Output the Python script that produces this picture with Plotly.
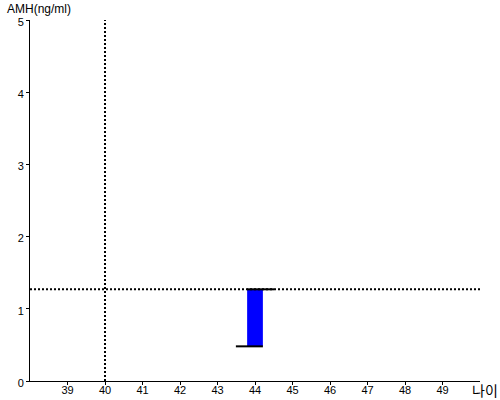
import plotly.graph_objects as go

ages = [44]
amh_low = [0.48]
amh_high = [1.27]
ref_age = 40
ref_amh = 1.27
x_ticks = [39, 40, 41, 42, 43, 44, 45, 46, 47, 48, 49]
y_ticks = [0, 1, 2, 3, 4, 5]

bar_w = 0.42
cap_ext = 0.3

W, H = 500, 400
ML, MR, MT, MB = 30, 20, 20, 19
pw, ph = W - ML - MR, H - MT - MB

fig = go.Figure()
fig.add_trace(go.Bar(
    x=ages, y=[h - l for h, l in zip(amh_high, amh_low)], base=amh_low,
    width=bar_w, marker=dict(color="#0000ff", line=dict(width=0)),
    hoverinfo="skip"))

# reference dotted lines
fig.add_trace(go.Scatter(x=[ref_age, ref_age], y=[0, 5], mode="lines",
                         line=dict(color="black", width=2, dash="2px,2px"), hoverinfo="skip"))
fig.add_trace(go.Scatter(x=[38, 50], y=[ref_amh, ref_amh], mode="lines",
                         line=dict(color="black", width=2, dash="2px,2px"), hoverinfo="skip"))

# caps
for a, lo, hi in zip(ages, amh_low, amh_high):
    fig.add_trace(go.Scatter(x=[a - bar_w / 2 - cap_ext, a + bar_w / 2], y=[lo, lo], mode="lines",
                             line=dict(color="black", width=2), hoverinfo="skip"))
    fig.add_trace(go.Scatter(x=[a - bar_w / 2, a + bar_w / 2 + cap_ext], y=[hi, hi], mode="lines",
                             line=dict(color="black", width=2), hoverinfo="skip"))

fig.update_layout(
    width=W, height=H,
    margin=dict(l=ML, r=MR, t=MT, b=MB, autoexpand=False),
    plot_bgcolor="white", paper_bgcolor="white",
    showlegend=False,
    font=dict(family="Liberation Sans, Arial, sans-serif", size=11, color="black"),
    xaxis=dict(range=[38, 50], tickvals=x_ticks, showgrid=False, zeroline=False,
               showline=True, linecolor="black", linewidth=1, automargin=False,
               ticks="outside", ticklen=3, tickcolor="black", fixedrange=True,
               ticklabelstandoff=-4),
    yaxis=dict(range=[0, 5], tickvals=y_ticks, showgrid=False, zeroline=False,
               showline=True, linecolor="black", linewidth=1, automargin=False,
               ticks="outside", ticklen=3, tickcolor="black", fixedrange=True,
               ticklabelshift=2),
    annotations=[
        dict(text="AMH(ng/ml)", x=(5 - ML) / pw, y=(H - MB - 9) / ph, xref="paper", yref="paper",
             xanchor="left", yanchor="middle", showarrow=False, font=dict(size=12)),
        dict(text="나이", x=(485 - ML) / pw, y=(H - MB - 390) / ph, xref="paper", yref="paper",
             xanchor="center", yanchor="middle", showarrow=False,
             font=dict(size=14, family="Noto Sans CJK KR, Noto Sans CJK SC, sans-serif")),
    ],
)

fig.write_html("out.html", config={"displayModeBar": False},
               post_script="document.body.style.margin='0';document.body.style.overflow='hidden';")
